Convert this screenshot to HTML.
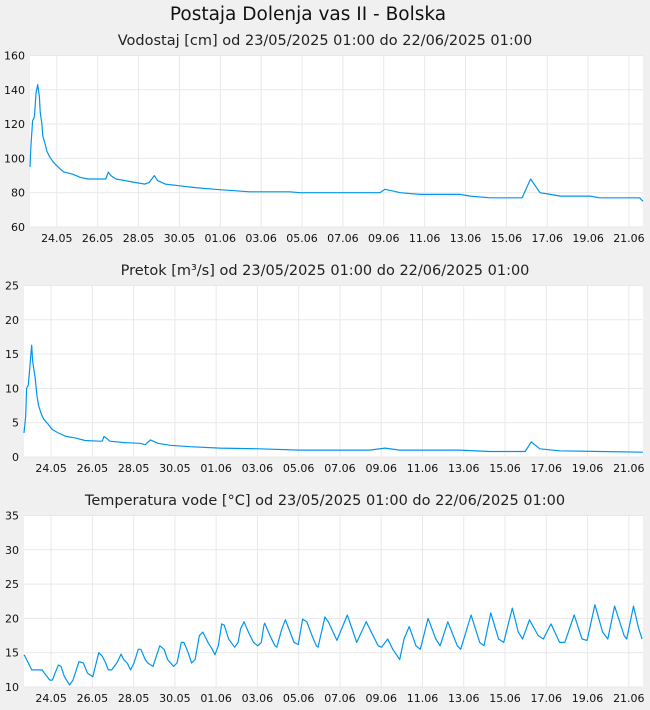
<!DOCTYPE html>
<html><head><meta charset="utf-8">
<style>
html,body{margin:0;padding:0;background:#f0f0f0;}
svg{display:block;font-family:"DejaVu Sans","Liberation Sans",sans-serif;}
</style></head>
<body>
<svg id="chart" width="650" height="710" viewBox="0 0 650 710" xmlns="http://www.w3.org/2000/svg">
<rect width="650" height="710" fill="#f0f0f0"/>
<text x="308" y="20" text-anchor="middle" font-size="18.5" fill="#111">Postaja Dolenja vas II - Bolska</text>
</svg>
<script>
const dayLabels = ["24.05","26.05","28.05","30.05","01.06","03.06","05.06","07.06","09.06","11.06","13.06","15.06","17.06","19.06","21.06"];
const levelTicks = [60,80,100,120,140,160];
const flowTicks = [0,5,10,15,20,25];
const tempTicks = [10,15,20,25,30,35];
// hours since 23/05/2025 01:00
const levelHours = [0,1,3,5,6,7,9,11,12,14,15,18,20,23,27,31,35,40,49,59,68,89,92,95,101,112,123,135,140,146,150,159,176,194,217,258,305,317,411,417,435,458,505,517,540,578,588,599,611,623,658,669,716,720];
const levelValues = [95,107,122,124,130,138,143,136,127,120,113,108,104,101,98,96,94,92,91,89,88,88,92,90,88,87,86,85,86,90,87,85,84,83,82,80.5,80.5,80,80,82,80,79,79,78,77,77,88,80,79,78,78,77,77,75];
const flowHours = [0,2,3,5,6,8,9,10,13,15,17,20,23,28,33,40,49,59,71,88,91,93,100,117,135,141,147,156,170,193,228,274,321,402,420,437,507,542,583,590,600,623,670,720];
const flowValues = [3.5,6,10,10.5,12,15,16.3,14,11.5,9,7.5,6.3,5.5,4.8,4,3.5,3,2.8,2.4,2.3,2.3,3.0,2.3,2.1,2.0,1.8,2.5,2.0,1.7,1.5,1.3,1.2,1.0,1.0,1.3,1.0,1.0,0.8,0.8,2.2,1.2,0.9,0.8,0.7];
const tempHours = [0,1,5,9,21,24,30,33,36,40,43,47,53,57,64,69,74,80,84,87,91,95,98,102,108,113,116,120,124,128,133,136,141,144,150,154,158,163,167,174,178,183,186,191,195,199,204,208,214,219,222,226,230,233,238,245,249,252,256,261,267,272,276,279,280,286,292,294,300,304,308,314,319,324,329,335,340,342,347,350,354,364,376,387,398,412,416,423,429,437,442,448,456,461,470,479,484,493,504,508,520,530,535,543,552,558,568,575,580,588,598,604,613,623,629,640,649,655,664,673,679,687,698,701,709,715,719];
const tempValues = [14.7,14.5,13.5,12.5,12.5,12,11,11,12,13.2,13,11.5,10.3,11,13.7,13.5,12,11.5,13.5,15,14.5,13.5,12.5,12.5,13.5,14.8,14,13.5,12.5,13.5,15.5,15.5,14,13.5,13,14.5,16,15.5,14,13,13.5,16.5,16.5,15,13.5,14,17.5,18,16.5,15.5,14.7,16,19.2,19,17,15.8,16.5,18.5,19.5,18,16.5,16,16.5,19,19.3,17.5,16,15.8,18.5,19.8,18.5,16.5,16.2,19.9,19.5,17.5,16,15.8,18.5,20.2,19.5,16.8,20.5,16.5,19.5,16,15.8,17,15.5,14,17,18.8,16,15.5,20,17,16,19.5,16,15.5,20.5,16.5,16,20.8,17,16.5,21.5,18,17,19.8,17.5,17,19.2,16.5,16.5,20.5,17,16.8,22,18,17,21.8,17.5,17,21.8,18.5,17];

const NS = "http://www.w3.org/2000/svg";
const svg = document.getElementById("chart");
function mk(tag, attrs, parent){const e=document.createElementNS(NS,tag);for(const k in attrs)e.setAttribute(k,attrs[k]);(parent||svg).appendChild(e);return e;}

function panel(cfg){
  const g = mk("g",{});
  
  
  const {x0,x1,y0,y1,min,max} = cfg;
  const xs = h => x0 + (h/720)*(x1-x0);
  const ys = v => y1 - (v-min)/(max-min)*(y1-y0);
  const t = mk("text",{x:325,y:cfg.titleY,"text-anchor":"middle","font-size":"14.5",fill:"#222"},g);
  t.textContent = cfg.title;
  
  
  const bg = mk("rect",{x:x0,y:y0,width:x1-x0,height:y1-y0,fill:"#fff"},g);
  
  
  cfg.ticks.forEach(v=>{
    const y = ys(v);
    const l = mk("line",{x1:x0,x2:x1,y1:y,y2:y,stroke:"#e9e9e9","stroke-width":1},g);
    
    
    const lb = mk("text",{x:x0-5,y:y+4,"text-anchor":"end","font-size":"11",fill:"#111"},g);
    lb.textContent = v;
    
    
  });
  dayLabels.forEach((d,i)=>{
    const h = 31.5 + i*48;
    const x = xs(h);
    const l = mk("line",{x1:x,x2:x,y1:y0,y2:y1,stroke:"#e9e9e9","stroke-width":1},g);
    
    
    const lb = mk("text",{x:x,y:y1+15,"text-anchor":"middle","font-size":"11",fill:"#111"},g);
    lb.textContent = d;
    
    
  });
  const pts = cfg.hours.map((h,i)=>xs(h).toFixed(1)+","+ys(cfg.values[i]).toFixed(1)).join(" ");
  const pl = mk("polyline",{points:pts,fill:"none",stroke:"#0096ee","stroke-width":1.2,"stroke-linejoin":"round"},g);
  
  
}
panel({name:"water-level-chart",title:"Vodostaj [cm] od 23/05/2025 01:00 do 22/06/2025 01:00",titleY:45,x0:30,x1:643,y0:55.5,y1:227,min:60,max:160,ticks:levelTicks,hours:levelHours,values:levelValues});
panel({name:"flow-chart",title:"Pretok [m³/s] od 23/05/2025 01:00 do 22/06/2025 01:00",titleY:275,x0:24,x1:643,y0:285.5,y1:457,min:0,max:25,ticks:flowTicks,hours:flowHours,values:flowValues});
panel({name:"temperature-chart",title:"Temperatura vode [°C] od 23/05/2025 01:00 do 22/06/2025 01:00",titleY:505,x0:24,x1:643,y0:515.5,y1:687,min:10,max:35,ticks:tempTicks,hours:tempHours,values:tempValues});
</script>
</body></html>
